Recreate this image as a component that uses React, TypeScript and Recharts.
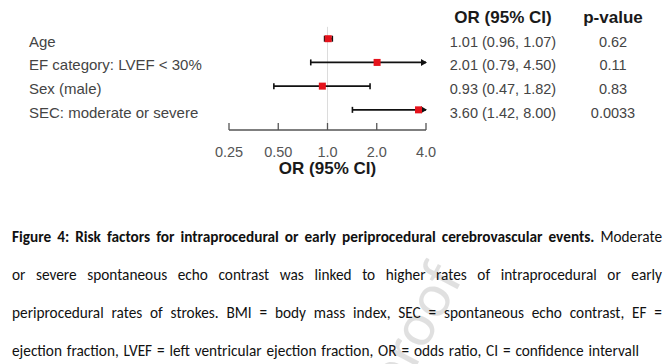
import { ReferenceLine, Scatter, ScatterChart, XAxis, YAxis } from 'recharts'

const factors = ['Age', 'EF category: LVEF < 30%', 'Sex (male)', 'SEC: moderate or severe']
const oddsRatios = [1.01, 2.01, 0.93, 3.6]
const ciLower = [0.96, 0.79, 0.47, 1.42]
const ciUpper = [1.07, 4.5, 1.82, 8.0]
const pValues = ['0.62', '0.11', '0.83', '0.0033']
const xTicks = [0.25, 0.5, 1, 2, 4]
const xTickLabels = ['0.25', '0.50', '1.0', '2.0', '4.0']

const X_MIN = 0.25
const X_MAX = 4
const TEXT_FONT = '"Liberation Sans", Arial, sans-serif'
const CAPTION_FONT = 'Carlito, Calibri, "Liberation Sans Narrow", "DejaVu Sans Condensed", sans-serif'

const captionLines = [
  'Moderate',
  'or severe spontaneous echo contrast was linked to higher rates of intraprocedural or early',
  'periprocedural rates of strokes. BMI = body mass index, SEC = spontaneous echo contrast, EF =',
  'ejection fraction, LVEF = left ventricular ejection fraction, OR = odds ratio, CI = confidence intervall',
]

const points = oddsRatios.map((or, i) => ({ x: or, y: i + 1 }))

function XTick({ x, y, payload }: any) {
  const idx = xTicks.indexOf(payload.value)
  return (
    <g>
      <line x1={x} x2={x} y1={y - 7} y2={y} stroke="#555" strokeWidth={1.3} />
      <text x={x} y={y + 27} textAnchor="middle" fontSize={14.5} fill="#555" fontFamily={TEXT_FONT}>
        {xTickLabels[idx] ?? payload.value}
      </text>
    </g>
  )
}

function LeftTick({ y, payload }: any) {
  return (
    <text x={29} y={y + 8} fontSize={15} fill="#444" fontFamily={TEXT_FONT}>
      {factors[payload.value - 1]}
    </text>
  )
}

function RightTick({ y, payload }: any) {
  const i = payload.value - 1
  if (i < 0) {
    return (
      <g fontSize={17} fontWeight="bold" fill="#1a1a1a" fontFamily={TEXT_FONT} textAnchor="middle">
        <text x={503} y={y + 8}>OR (95% CI)</text>
        <text x={613} y={y + 8}>p-value</text>
      </g>
    )
  }
  const label = `${oddsRatios[i].toFixed(2)} (${ciLower[i].toFixed(2)}, ${ciUpper[i].toFixed(2)})`
  return (
    <g fontSize={14.5} fill="#444" fontFamily={TEXT_FONT} textAnchor="middle">
      <text x={503} y={y + 8}>{label}</text>
      <text x={613} y={y + 8}>{pValues[i]}</text>
    </g>
  )
}

function ciShape(clippedLow: boolean, clippedHigh: boolean) {
  return (props: any) => {
    const { x1, x2, y1 } = props
    const y = y1
    return (
      <g>
        <line x1={x1} x2={x2} y1={y} y2={y} stroke="#111" strokeWidth={1.8} />
        {clippedLow ? (
          <polygon points={`${x1 - 6},${y} ${x1},${y - 3.5} ${x1},${y + 3.5}`} fill="#111" />
        ) : (
          <line x1={x1} x2={x1} y1={y - 3} y2={y + 3} stroke="#111" strokeWidth={1.6} />
        )}
        {clippedHigh ? (
          <polygon points={`${x2 + 1},${y} ${x2 - 5},${y - 3.5} ${x2 - 5},${y + 3.5}`} fill="#111" />
        ) : (
          <line x1={x2} x2={x2} y1={y - 3} y2={y + 3} stroke="#111" strokeWidth={1.6} />
        )}
      </g>
    )
  }
}

function PointShape({ cx, cy }: any) {
  return <rect x={cx - 3.5} y={cy - 3.5} width={7} height={7} fill="#e5131c" />
}

function ForestPlot() {
  return (
    <ScatterChart width={672} height={185} margin={{ top: 15, right: 0, bottom: 0, left: 0 }}>
      <XAxis
        dataKey="x"
        type="number"
        scale="log"
        domain={[X_MIN, X_MAX]}
        ticks={xTicks}
        allowDataOverflow
        height={55}
        tickSize={0}
        tickMargin={0}
        tickLine={false}
        axisLine={{ stroke: '#555', strokeWidth: 1.3 }}
        tick={<XTick />}
        label={{
          value: 'OR (95% CI)',
          position: 'insideBottom',
          offset: 11,
          fontSize: 17,
          fontWeight: 'bold',
          fill: '#1a1a1a',
          fontFamily: TEXT_FONT,
        }}
      />
      <YAxis
        yAxisId="left"
        dataKey="y"
        type="number"
        domain={[0, 4.85]}
        reversed
        ticks={[1, 2, 3, 4]}
        width={229}
        axisLine={false}
        tickLine={false}
        tick={<LeftTick />}
        allowDataOverflow
      />
      <YAxis
        yAxisId="right"
        orientation="right"
        type="number"
        domain={[0, 4.85]}
        reversed
        ticks={[0, 1, 2, 3, 4]}
        width={246}
        axisLine={false}
        tickLine={false}
        tick={<RightTick />}
        allowDataOverflow
      />
      <ReferenceLine
        yAxisId="left"
        segment={[
          { x: 1, y: 0.5 },
          { x: 1, y: 4.85 },
        ]}
        stroke="#dcdcdc"
        strokeWidth={1}
        ifOverflow="visible"
      />
      {factors.map((f, i) => (
        <ReferenceLine
          key={f}
          yAxisId="left"
          segment={[
            { x: Math.max(ciLower[i], X_MIN), y: i + 1 },
            { x: Math.min(ciUpper[i], X_MAX), y: i + 1 },
          ]}
          ifOverflow="visible"
          shape={ciShape(ciLower[i] < X_MIN, ciUpper[i] > X_MAX)}
        />
      ))}
      <Scatter yAxisId="left" data={points} shape={<PointShape />} isAnimationActive={false} />
    </ScatterChart>
  )
}

export default function App() {
  return (
    <div style={{ position: 'relative', width: 672, height: 364, background: '#fff', overflow: 'hidden' }}>
      <style>{'body{margin:0}'}</style>
      <ForestPlot />
      <svg
        width={672}
        height={364}
        style={{ position: 'absolute', left: 0, top: 0, pointerEvents: 'none' }}
      >
        <text
          x={464}
          y={277}
          textAnchor="end"
          fontSize={62}
          fill="#000"
          fillOpacity={0.12}
          fontFamily={CAPTION_FONT}
          transform="rotate(-62 464 277)"
        >
          Journal Pre-proof
        </text>
      </svg>
      <div
        style={{
          position: 'absolute',
          left: 12,
          top: 218,
          width: 650,
          fontFamily: CAPTION_FONT,
          fontSize: 15.3,
          lineHeight: '38px',
          color: '#111',
        }}
      >
        {captionLines.map((line, i) => {
          const last = i === captionLines.length - 1
          return (
            <div
              key={i}
              style={{
                height: 38,
                textAlign: 'justify',
                textAlignLast: last ? 'left' : 'justify',
                wordSpacing: last ? 1.4 : 0,
              }}
            >
              {i === 0 && (
                <b>Figure 4: Risk factors for intraprocedural or early periprocedural cerebrovascular events. </b>
              )}
              {line}
            </div>
          )
        })}
      </div>
    </div>
  )
}
